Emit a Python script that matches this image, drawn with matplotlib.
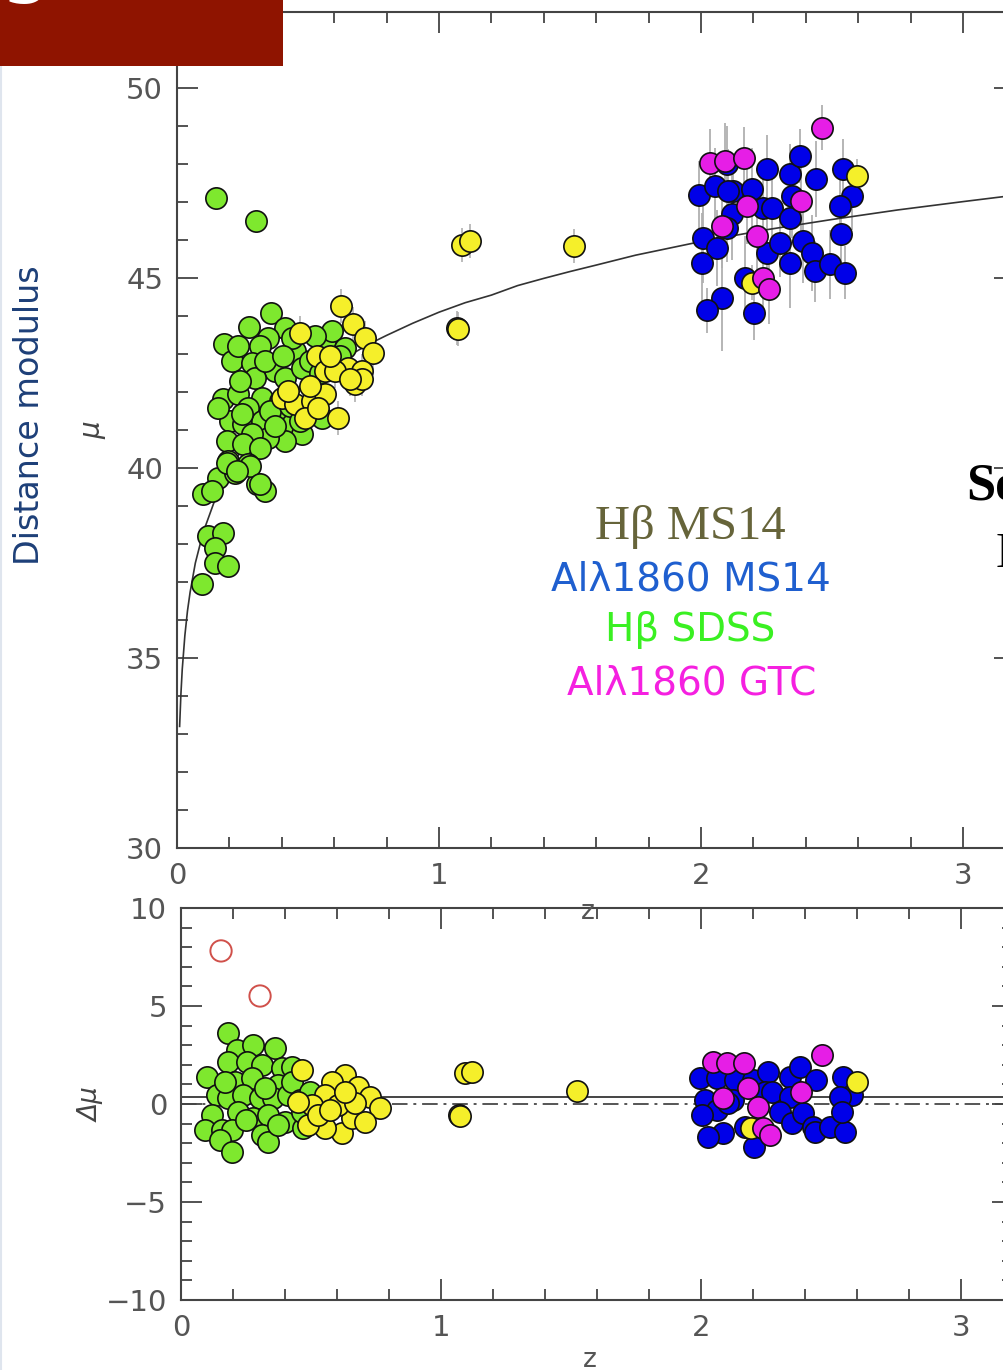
import matplotlib
matplotlib.use("Agg")
import matplotlib.pyplot as plt
from matplotlib.ticker import MultipleLocator
from matplotlib.patches import Rectangle
from matplotlib.lines import Line2D

# ---------------- data ----------------
# model distance-modulus curve
model_z = [0.01, 0.015, 0.02, 0.03, 0.04, 0.05, 0.07, 0.1, 0.15, 0.2, 0.25, 0.3, 0.35, 0.4,
           0.45, 0.5, 0.55, 0.6, 0.65, 0.7, 0.75, 0.8, 0.9, 1.0, 1.1, 1.2, 1.3, 1.4, 1.5,
           1.6, 1.75, 2.0, 2.25, 2.5, 2.75, 3.0, 3.2]
model_mu = [33.2, 34.06, 34.7, 35.59, 36.24, 36.73, 37.5, 38.31, 39.26, 39.96, 40.51, 40.97, 41.35, 41.69,
            41.99, 42.26, 42.5, 42.73, 42.93, 43.13, 43.32, 43.49, 43.81, 44.1, 44.35, 44.55, 44.8, 44.99, 45.17,
            45.34, 45.6, 45.96, 46.27, 46.54, 46.79, 47.01, 47.18]

# top panel: H-beta SDSS (green)
sdss_z = [0.149, 0.302, 0.358, 0.275, 0.412, 0.179, 0.348, 0.317, 0.209, 0.285, 0.374, 0.450,
          0.438, 0.298, 0.412, 0.476, 0.177, 0.234, 0.323, 0.272, 0.202, 0.253, 0.323, 0.387,
          0.438, 0.476, 0.412, 0.348, 0.285, 0.190, 0.253, 0.317, 0.552, 0.196, 0.272, 0.158,
          0.221, 0.100, 0.304, 0.336, 0.132, 0.565, 0.590, 0.641, 0.247, 0.158, 0.119, 0.177,
          0.145, 0.145, 0.196, 0.094, 0.190, 0.279, 0.228, 0.317, 0.508, 0.527, 0.393, 0.355,
          0.431, 0.469, 0.374, 0.240, 0.336, 0.405, 0.233, 0.546, 0.622]
sdss_mu = [47.11, 46.50, 44.09, 43.71, 43.69, 43.26, 43.43, 43.21, 42.82, 42.77, 42.55, 43.08,
           43.43, 42.38, 42.38, 42.64, 41.81, 41.94, 41.85, 41.59, 41.24, 41.15, 41.24, 41.32,
           41.15, 40.89, 40.71, 40.80, 40.89, 40.71, 40.62, 40.53, 41.32, 40.18, 40.10, 39.74,
           39.88, 39.31, 39.57, 39.39, 39.39, 43.34, 43.61, 43.17, 41.41, 41.59, 38.21, 38.30,
           37.90, 37.51, 37.42, 36.94, 40.14, 40.05, 39.92, 39.58, 42.82, 43.47, 41.76, 41.50,
           41.63, 41.24, 41.11, 42.29, 42.82, 42.95, 43.21, 42.50, 42.95]

# top panel: H-beta MS14 (yellow)
hb_z = [0.625, 0.673, 0.718, 0.749, 0.469, 0.533, 0.565, 0.654, 0.705, 0.679, 0.705, 0.400,
        0.450, 0.514, 0.565, 0.489, 0.616, 0.425, 0.539, 0.603, 0.660, 0.508, 0.584,
        1.069, 1.072, 1.088, 1.118, 1.515, 2.193, 2.594]
hb_mu = [44.26, 43.78, 43.43, 43.03, 43.56, 42.95, 42.55, 42.64, 42.55, 42.20, 42.34, 41.85,
         41.68, 41.76, 41.94, 41.32, 41.32, 42.03, 41.59, 42.55, 42.34, 42.16, 42.95,
         43.68, 43.65, 45.87, 45.97, 45.84, 44.88, 47.68]
hb_err = 0.45

# top panel: AlIII 1860 MS14 (blue)
al_z = [1.994, 2.053, 2.123, 2.193, 2.251, 2.340, 2.378, 2.439, 2.543, 2.575, 2.531, 2.117,
        2.238, 2.270, 2.340, 2.346, 2.009, 2.060, 2.098, 2.003, 2.251, 2.302, 2.340, 2.390,
        2.423, 2.435, 2.492, 2.550, 2.533, 2.168, 2.079, 2.024, 2.202, 2.104, 2.098]
al_mu = [47.18, 47.42, 47.29, 47.33, 47.86, 47.73, 48.21, 47.60, 47.86, 47.16, 46.89, 46.68,
         46.85, 46.85, 46.59, 47.16, 46.06, 45.80, 46.32, 45.40, 45.67, 45.93, 45.40, 45.97,
         45.67, 45.18, 45.36, 45.14, 46.15, 45.01, 44.48, 44.15, 44.07, 47.29, 47.99]
al_err = [0.9, 1.0, 0.8, 1.1, 0.9, 0.8, 0.7, 1.0, 0.8, 0.9, 1.0, 1.2,
          0.9, 0.8, 1.0, 1.1, 1.2, 1.0, 0.9, 1.3, 1.0, 0.9, 1.2, 1.1,
          1.0, 0.8, 0.9, 0.7, 1.0, 1.1, 1.4, 0.6, 0.7, 1.1, 1.0]

# top panel: AlIII 1860 GTC (magenta)
gtc_z = [2.034, 2.092, 2.164, 2.461, 2.174, 2.382, 2.079, 2.215, 2.235, 2.261]
gtc_mu = [48.03, 48.08, 48.17, 48.96, 46.89, 47.03, 46.37, 46.11, 45.01, 44.70]
gtc_err = [0.9, 1.0, 0.8, 0.6, 1.0, 0.9, 1.1, 1.0, 0.8, 0.9]

# bottom panel residuals
sdss_rz = [0.182, 0.214, 0.278, 0.362, 0.182, 0.099, 0.253, 0.310, 0.387, 0.426, 0.374, 0.208,
           0.272, 0.137, 0.182, 0.240, 0.304, 0.355, 0.413, 0.118, 0.220, 0.278, 0.336, 0.400,
           0.092, 0.157, 0.195, 0.150, 0.310, 0.336, 0.195, 0.470, 0.426, 0.169, 0.464, 0.323,
           0.458, 0.496, 0.250, 0.373]
sdss_dmu = [3.61, 2.76, 3.01, 2.84, 2.16, 1.39, 2.16, 1.99, 1.82, 1.90, 0.97, 1.14,
            1.31, 0.46, 0.29, 0.46, 0.29, 0.29, 0.46, -0.56, -0.39, -0.73, -0.56, -0.90,
            -1.33, -1.33, -1.33, -1.84, -1.58, -1.92, -2.43, -1.24, 1.14, 1.14, -0.39, 0.82,
            0.20, 0.61, -0.82, -1.07]

outlier_z = [0.154, 0.304]
outlier_dmu = [7.81, 5.51]

hb_rz = [0.464, 0.631, 0.682, 0.727, 0.765, 0.618, 0.554, 0.490, 0.657, 0.708, 0.580, 0.554,
         0.503, 0.605, 0.451, 0.669, 0.527, 0.631, 0.573,
         1.069, 1.072, 1.092, 1.119, 1.523, 2.599, 2.191]
hb_dmu = [1.73, 1.48, 0.88, 0.37, -0.22, -1.49, -1.24, -1.07, -0.73, -0.90, 1.14, 0.46,
          -0.05, -0.05, 0.12, 0.04, -0.56, 0.61, -0.31,
          -0.56, -0.60, 1.58, 1.63, 0.66, 1.14, -1.24]

al_rz = [1.996, 2.060, 2.131, 2.201, 2.257, 2.342, 2.381, 2.442, 2.547, 2.580, 2.535, 2.124,
         2.246, 2.272, 2.342, 2.015, 2.060, 2.105, 2.003, 2.304, 2.349, 2.393, 2.432, 2.438,
         2.496, 2.554, 2.541, 2.169, 2.086, 2.028, 2.204]
al_dmu = [1.31, 1.31, 1.22, 1.22, 1.65, 1.39, 1.90, 1.22, 1.39, 0.46, 0.37, 0.20,
          0.63, 0.63, 0.37, 0.20, -0.31, 0.04, -0.56, -0.39, -0.98, -0.47, -1.16, -1.41,
          -1.16, -1.41, -0.39, -1.16, -1.49, -1.67, -2.18]

gtc_rz = [2.047, 2.099, 2.165, 2.464, 2.182, 2.385, 2.086, 2.220, 2.240, 2.265]
gtc_dmu = [2.16, 2.08, 2.08, 2.50, 0.80, 0.63, 0.29, -0.14, -1.24, -1.58]

fit_offset = 0.35
zero_level = 0.0

legend_labels = ["H\u03b2 MS14", "Al\u03bb1860 MS14", "H\u03b2 SDSS", "Al\u03bb1860 GTC"]

# ---------------- styles ----------------
C_GREEN = "#7ee82e"
C_YELLOW = "#f5ef2a"
C_BLUE = "#0000e8"
C_MAG = "#e61ee6"
SPINE = "#444444"
TXT = "#555555"
MS = 235
ELW = 1.2

W, H = 1004, 1370
fig = plt.figure(figsize=(W / 100, H / 100), dpi=100)
fig.patch.set_facecolor("white")


def px_rect(l, t, r, b):
    return [l / W, 1 - b / H, (r - l) / W, (b - t) / H]


def fx(x):
    return x / W


def fy(y):
    return 1 - y / H


ax1 = fig.add_axes(px_rect(177, 12, 177 + 3.2 * 262, 848))
ax2 = fig.add_axes(px_rect(181, 908, 181 + 3.2 * 260, 1300))

for ax in (ax1, ax2):
    ax.set_xlim(0, 3.2)
    ax.xaxis.set_major_locator(MultipleLocator(1))
    ax.xaxis.set_minor_locator(MultipleLocator(0.2))
    ax.yaxis.set_minor_locator(MultipleLocator(1))
    ax.tick_params(which="both", direction="in", top=True, right=True,
                   color=SPINE, width=1.3, labelcolor=TXT, labelsize=21)
    ax.tick_params(which="major", length=15, pad=10)
    ax.tick_params(which="minor", length=8)
    for s in ax.spines.values():
        s.set_color(SPINE)
        s.set_linewidth(1.5)

ax1.set_ylim(30, 52)
ax1.yaxis.set_major_locator(MultipleLocator(5))
ax2.set_ylim(-10, 10)
ax2.yaxis.set_major_locator(MultipleLocator(5))

# ---- top panel ----
ax1.plot(model_z, model_mu, color="#333333", lw=1.2, zorder=2)
ax1.errorbar(al_z, al_mu, yerr=al_err, fmt="none", ecolor="#b0b0b0", elinewidth=1.3, zorder=1)
ax1.errorbar(gtc_z, gtc_mu, yerr=gtc_err, fmt="none", ecolor="#b0b0b0", elinewidth=1.3, zorder=1)
ax1.errorbar(hb_z, hb_mu, yerr=hb_err, fmt="none", ecolor="#b0b0b0", elinewidth=1.2, zorder=1)
ax1.scatter(sdss_z, sdss_mu, s=MS, c=C_GREEN, edgecolors="#111111", linewidths=ELW, zorder=3)
ax1.scatter(hb_z, hb_mu, s=MS, c=C_YELLOW, edgecolors="#111111", linewidths=ELW, zorder=4)
ax1.scatter(al_z, al_mu, s=MS, c=C_BLUE, edgecolors="#111111", linewidths=ELW, zorder=3)
ax1.scatter(gtc_z, gtc_mu, s=MS, c=C_MAG, edgecolors="#111111", linewidths=ELW, zorder=4)

# ---- bottom panel ----
ax2.axhline(fit_offset, color="#444444", lw=1.4, zorder=1)
ax2.axhline(zero_level, color="#555555", lw=1.4, ls=(0, (8, 3, 1.5, 3)), zorder=1)
ax2.scatter(outlier_z, outlier_dmu, s=MS, facecolors="none", edgecolors="#d0504a",
            linewidths=1.4, zorder=3)
ax2.scatter(sdss_rz, sdss_dmu, s=MS, c=C_GREEN, edgecolors="#111111", linewidths=ELW, zorder=3)
ax2.scatter(hb_rz, hb_dmu, s=MS, c=C_YELLOW, edgecolors="#111111", linewidths=ELW, zorder=4)
ax2.scatter(al_rz, al_dmu, s=MS, c=C_BLUE, edgecolors="#111111", linewidths=ELW, zorder=3)
ax2.scatter(gtc_rz, gtc_dmu, s=MS, c=C_MAG, edgecolors="#111111", linewidths=ELW, zorder=4)

# ---- axis labels ----
fig.text(fx(92), fy(430), "\u03bc", rotation=90, fontsize=20, style="italic",
         color="#444444", ha="center", va="center")
fig.text(fx(92), fy(1105), "\u0394\u03bc", rotation=90, fontsize=19, style="italic",
         color="#444444", ha="center", va="center")
fig.text(fx(588), fy(912), "z", fontsize=19, color=TXT, ha="center", va="center", zorder=10)
fig.text(fx(590), fy(1360), "z", fontsize=19, color=TXT, ha="center", va="center")
fig.text(fx(30), fy(415), "Distance modulus", rotation=90, fontsize=24, color="#1d3f78",
         ha="center", va="center")

# ---- legend-like labels ----
fig.text(fx(690), fy(527), legend_labels[0], fontsize=35, family=["Liberation Serif", "DejaVu Serif"],
         color="#66643a", ha="center", va="center")
fig.text(fx(691), fy(580), legend_labels[1], fontsize=28, color="#1f5fcf", ha="center", va="center")
fig.text(fx(690), fy(630), legend_labels[2], fontsize=28, color="#3af022", ha="center", va="center")
fig.text(fx(692), fy(683), legend_labels[3], fontsize=28, color="#f520e0", ha="center", va="center")

# ---- slide decorations ----
fig.patches.append(Rectangle((0, fy(66)), fx(283), 66 / H, transform=fig.transFigure,
                             facecolor="#8f1400", edgecolor="none", zorder=5))
fig.text(fx(-2), fy(-14), "g", fontsize=62, color="white", ha="left", va="baseline", zorder=6)
fig.lines.append(Line2D([fx(1.5), fx(1.5)], [0, 1], transform=fig.transFigure,
                        color="#dfe5ee", lw=1.5))
fig.text(fx(966), fy(500), "Se", fontsize=38, fontweight="bold",
         family=["Liberation Serif", "DejaVu Serif"], color="black", ha="left", va="baseline")
fig.text(fx(996), fy(567), "D", fontsize=36,
         family=["Liberation Serif", "DejaVu Serif"], color="black", ha="left", va="baseline")

fig.savefig("out.png", dpi=100)
